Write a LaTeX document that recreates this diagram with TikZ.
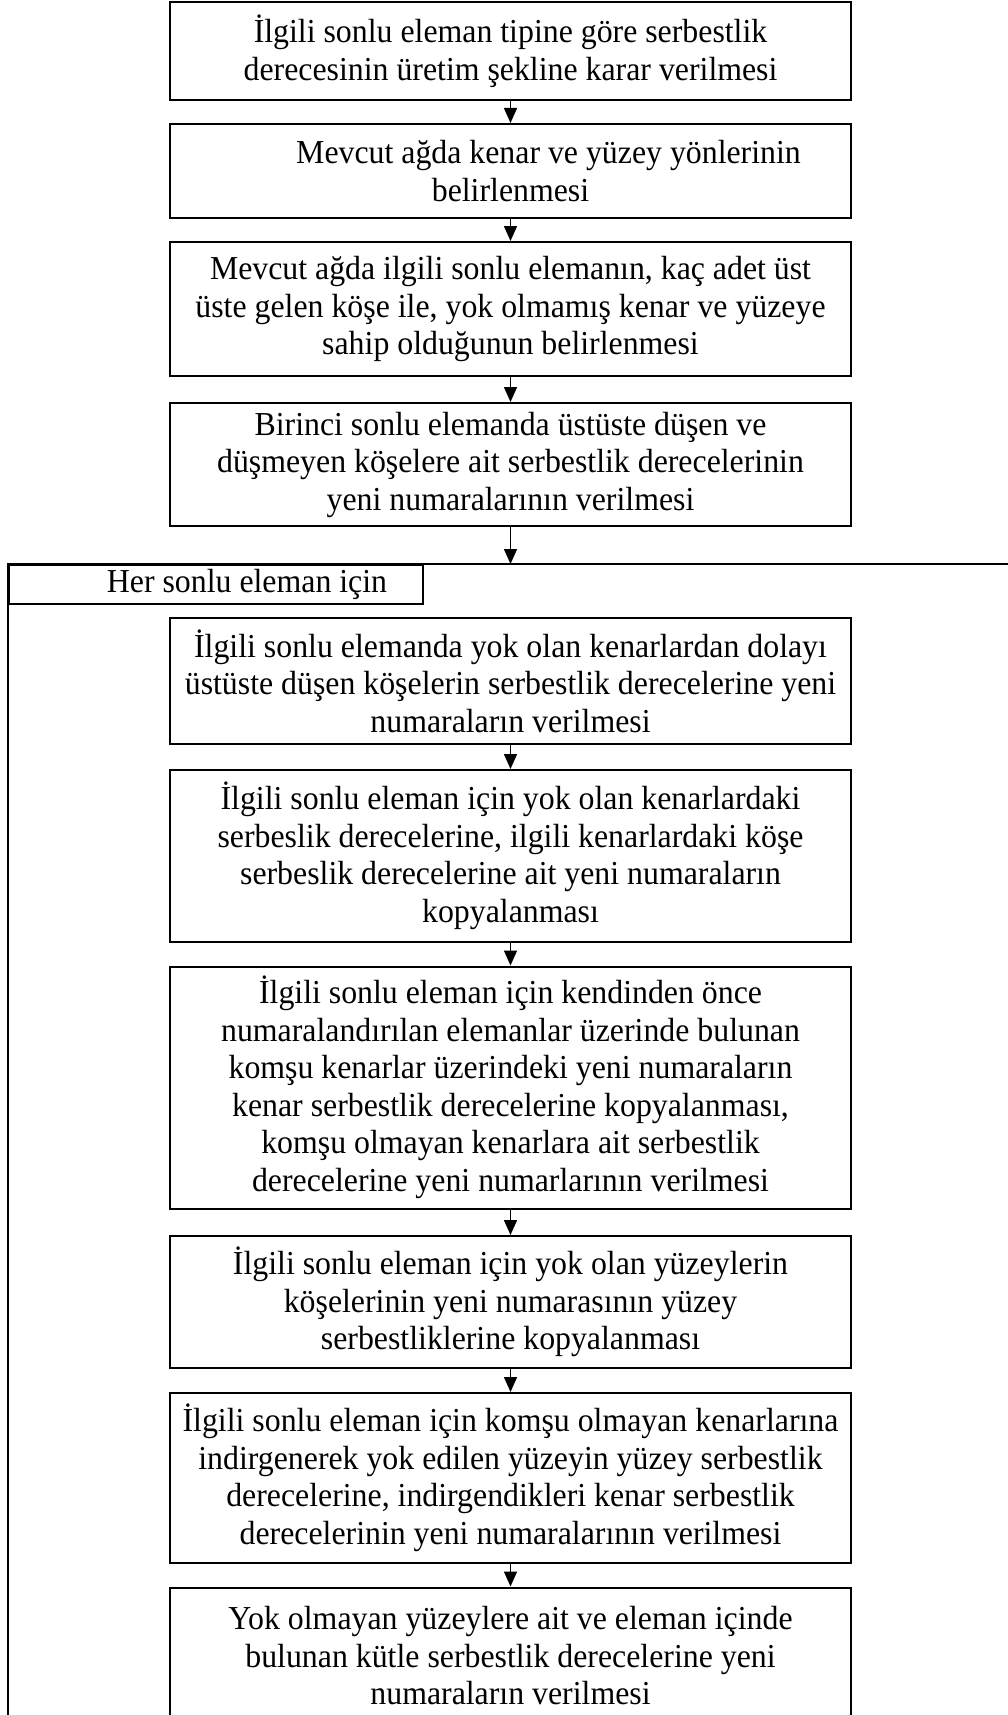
\documentclass[tikz,border=0pt]{standalone}
\usepackage{fontspec}
\setmainfont[FakeStretch=0.95]{Liberation Serif}
\usetikzlibrary{arrows.meta}

\begin{document}
\begin{tikzpicture}[x=1pt,y=-1pt,
    kutu/.style={draw,line width=2pt,minimum width=681pt,align=center,inner sep=3pt,
      font=\fontsize{33.5}{37.5}\selectfont},
    ok/.style={-{Triangle[length=15pt,width=13pt]},line width=1.5pt}]
          \useasboundingbox (0,0) rectangle (1008,1715);
          \clip (0,0) rectangle (1008,1715);
          % ust kisim
          \node[kutu,minimum height=98pt] (b1) at (510.5,51) {İlgili sonlu eleman tipine göre serbestlik\\derecesinin üretim şekline karar verilmesi};
          \node[kutu,minimum height=94pt] (b2) at (510.5,171) {\hspace*{76pt}Mevcut ağda kenar ve yüzey yönlerinin\\belirlenmesi};
          \node[kutu,minimum height=134pt] (b3) at (510.5,309) {Mevcut ağda ilgili sonlu elemanın, kaç adet üst\\üste gelen köşe ile, yok olmamış kenar ve yüzeye\\sahip olduğunun belirlenmesi};
          \node[kutu,minimum height=123pt] (b4) at (510.5,464.5) {Birinci sonlu elemanda üstüste düşen ve\\düşmeyen köşelere ait serbestlik derecelerinin\\yeni numaralarının verilmesi};
          % dongu
          \coordinate (dongu) at (510.5,564);
          \draw[line width=2pt] (8,1730) |- (1015,564);
          \node[kutu,minimum width=414pt,minimum height=39pt,anchor=north west,inner sep=0pt] (tab) at (8,564) {\hspace*{62pt}Her sonlu eleman için};
          \node[kutu,minimum height=126pt] (i1) at (510.5,681) {İlgili sonlu elemanda yok olan kenarlardan dolayı\\üstüste düşen köşelerin serbestlik derecelerine yeni\\numaraların verilmesi};
          \node[kutu,minimum height=172pt] (i2) at (510.5,856) {İlgili sonlu eleman için yok olan kenarlardaki\\serbeslik derecelerine, ilgili kenarlardaki köşe\\serbeslik derecelerine ait yeni numaraların\\kopyalanması};
          \node[kutu,minimum height=242pt] (i3) at (510.5,1087.5) {İlgili sonlu eleman için kendinden önce\\numaralandırılan elemanlar üzerinde bulunan\\komşu kenarlar üzerindeki yeni numaraların\\kenar serbestlik derecelerine kopyalanması,\\komşu olmayan kenarlara ait serbestlik\\derecelerine yeni numarlarının verilmesi};
          \node[kutu,minimum height=132pt] (i4) at (510.5,1302) {İlgili sonlu eleman için yok olan yüzeylerin\\köşelerinin yeni numarasının yüzey\\serbestliklerine kopyalanması};
          \node[kutu,minimum height=170pt] (i5) at (510.5,1478) {İlgili sonlu eleman için komşu olmayan kenarlarına\\indirgenerek yok edilen yüzeyin yüzey serbestlik\\derecelerine, indirgendikleri kenar serbestlik\\derecelerinin yeni numaralarının verilmesi};
          \node[kutu,minimum height=137pt] (i6) at (510.5,1656) {Yok olmayan yüzeylere ait ve eleman içinde\\bulunan kütle serbestlik derecelerine yeni\\numaraların verilmesi};
          % oklar
          \draw[ok] (b1) -- (b2);
          \draw[ok] (b2) -- (b3);
          \draw[ok] (b3) -- (b4);
          \draw[ok] (b4) -- (dongu);
          \draw[ok] (i1) -- (i2);
          \draw[ok] (i2) -- (i3);
          \draw[ok] (i3) -- (i4);
          \draw[ok] (i4) -- (i5);
          \draw[ok] (i5) -- (i6);
        \end{tikzpicture}
\end{document}
